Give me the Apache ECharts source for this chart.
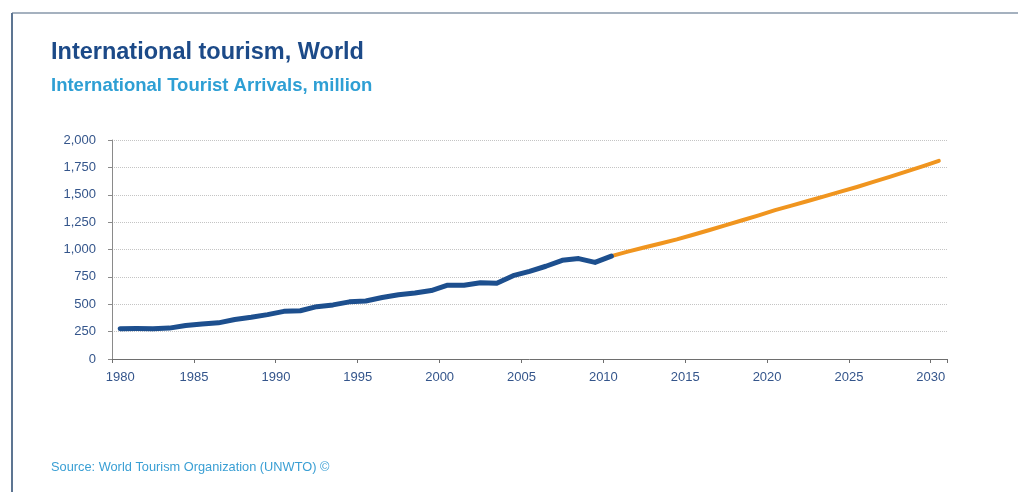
<!DOCTYPE html>
<html>
<head>
<meta charset="utf-8">
<script src="https://cdn.jsdelivr.net/npm/echarts@6/dist/echarts.min.js"></script>
<style>
html,body{margin:0;padding:0;background:#ffffff;}
#chart{width:1018px;height:492px;}
</style>
</head>
<body>
<div id="chart"></div>
<script>
// ---- data ----
const years = ['1980','1981','1982','1983','1984','1985','1986','1987','1988','1989',
  '1990','1991','1992','1993','1994','1995','1996','1997','1998','1999',
  '2000','2001','2002','2003','2004','2005','2006','2007','2008','2009',
  '2010','2011','2012','2013','2014','2015','2016','2017','2018','2019',
  '2020','2021','2022','2023','2024','2025','2026','2027','2028','2029','2030'];

// actual arrivals 1980-2010 (million)
const actualArrivals = [277, 278, 277, 282, 306, 320, 330, 361, 381, 405,
  435, 441, 478, 494, 522, 530, 561, 586, 602, 625,
  674, 674, 696, 692, 761, 800, 847, 901, 917, 882, 940];

// forecast arrivals 2010-2030 (million)
const forecastArrivals = [940, 980, 1018, 1055, 1093, 1135, 1178, 1222, 1267, 1312,
  1360, 1401, 1443, 1485, 1528, 1571, 1617, 1664, 1712, 1760, 1809];

const yTickValues = [0, 250, 500, 750, 1000, 1250, 1500, 1750, 2000];

const titleText = 'International tourism, World';
const subtitleText = 'International Tourist Arrivals, million';
const sourceText = 'Source: World Tourism Organization (UNWTO) \u00A9';

// ---- build series arrays aligned with categories ----
const forecastStart = years.indexOf('2010');
const actualSeries = years.map((y, i) => i < actualArrivals.length ? actualArrivals[i] : '-');
const forecastSeries = years.map((y, i) => i >= forecastStart ? forecastArrivals[i - forecastStart] : '-');

const labelColor = '#34558b';
const font = 'Liberation Sans, Arial, sans-serif';

const chart = echarts.init(document.getElementById('chart'), null, {renderer: 'canvas'});
chart.setOption({
  animation: false,
  backgroundColor: '#ffffff',
  title: [
    {text: titleText, left: 51, top: 41, padding: 0,
     textStyle: {fontFamily: font, fontWeight: 'bold', fontSize: 23.5, color: '#1c4a88'}},
    {text: subtitleText, left: 51, top: 76, padding: 0,
     textStyle: {fontFamily: font, fontWeight: 'bold', fontSize: 18.5, color: '#2e9fd4'}},
    {text: sourceText, left: 51, top: 461, padding: 0,
     textStyle: {fontFamily: font, fontWeight: 'normal', fontSize: 12.8, color: '#3a9fd4'}}
  ],
  graphic: [
    {type: 'line', shape: {x1: 12, y1: 13, x2: 1018, y2: 13},
     style: {stroke: '#8797aa', lineWidth: 1.5}, silent: true},
    {type: 'line', shape: {x1: 12, y1: 13, x2: 12, y2: 492},
     style: {stroke: '#5d7592', lineWidth: 2}, silent: true}
  ],
  grid: {left: 112, right: 71, top: 140, bottom: 133, containLabel: false},
  xAxis: {
    type: 'category',
    data: years,
    boundaryGap: true,
    axisLine: {show: true, lineStyle: {color: '#6e6e6e', width: 1}},
    axisTick: {show: true, interval: 4, alignWithLabel: false, length: 4, inside: false,
               lineStyle: {color: '#6e6e6e'}},
    axisLabel: {
      interval: 4,
      margin: 12,
      formatter: (v, i) => (i === 0 ? '{a|' + v + '}' : '{b|' + v + '}'),
      rich: {
        a: {fontFamily: font, fontSize: 13, color: labelColor},
        b: {fontFamily: font, fontSize: 13, color: labelColor, padding: [0, 16, 0, 0]}
      }
    },
    splitLine: {show: false}
  },
  yAxis: {
    type: 'value',
    min: yTickValues[0],
    max: yTickValues[yTickValues.length - 1],
    interval: 250,
    axisLine: {show: true, lineStyle: {color: '#8a8a8a', width: 1}},
    axisTick: {show: true, length: 4, inside: false, lineStyle: {color: '#8a8a8a'}},
    axisLabel: {
      margin: 16,
      fontFamily: font, fontSize: 13, color: labelColor,
      formatter: v => v.toLocaleString('en-US')
    },
    splitLine: {show: true, lineStyle: {type: 'dotted', color: '#c4c4c4', width: 1}}
  },
  series: [
    {name: 'Actual', type: 'line', data: actualSeries, showSymbol: false, symbol: 'none',
     lineStyle: {color: '#1d4f8e', width: 5, join: 'round', cap: 'round'}, z: 3},
    {name: 'Forecast', type: 'line', data: forecastSeries, showSymbol: false, symbol: 'none',
     lineStyle: {color: '#f0951f', width: 4, join: 'round', cap: 'round'}, z: 2}
  ]
});
</script>
</body>
</html>
